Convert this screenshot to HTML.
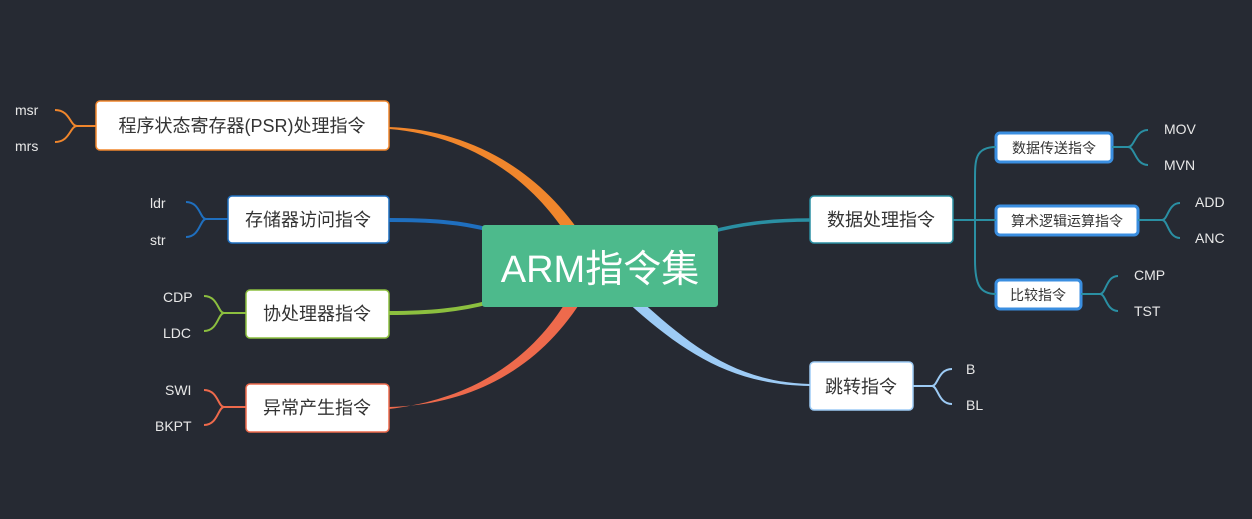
<!DOCTYPE html>
<html><head><meta charset="utf-8"><style>
html,body{margin:0;padding:0;background:#262a33;width:1252px;height:519px;overflow:hidden}
text{font-family:"Liberation Sans","Noto Sans CJK SC",sans-serif}
</style></head><body>
<svg width="1252" height="519" viewBox="0 0 1252 519" xmlns="http://www.w3.org/2000/svg">
<rect width="1252" height="519" fill="#262a33"/>
<!-- main branches -->
<path d="M389 127 C470 130 540 170 585 240 L570 240 C530 175 465 135 389 129Z" fill="#f0862c"/>
<path d="M389 407 C470 405 540 370 585 295 L570 295 C530 365 465 400 389 409Z" fill="#ee6a4c"/>
<path d="M389 220 C430 220 460 222 490 230" stroke="#1f6fbf" stroke-width="4" fill="none"/>
<path d="M389 313 C430 313 460 310 490 302" stroke="#8cbf3f" stroke-width="4" fill="none"/>
<path d="M625 300 C680 350 730 385 810 386 L810 384 C735 382 690 345 640 300Z" fill="#9dcbf5"/>
<path d="M710 232 C740 224 770 220 810 220" stroke="#2a8fa3" stroke-width="3.5" fill="none"/>
<!-- central -->
<rect x="482" y="225" width="236" height="82" rx="3" fill="#4dba8c"/>
<text x="600" y="282" font-size="38" fill="#fff" text-anchor="middle">ARM指令集</text>
<!-- left nodes -->
<g fill="#fff" stroke-width="1.5">
<rect x="96" y="101" width="293" height="49" rx="4" stroke="#f0862c"/>
<rect x="228" y="196" width="161" height="47" rx="4" stroke="#1f6fbf"/>
<rect x="246" y="290" width="143" height="48" rx="4" stroke="#8cbf3f"/>
<rect x="246" y="384" width="143" height="48" rx="4" stroke="#ee6a4c"/>
<rect x="810" y="196" width="143" height="47" rx="4" stroke="#2a8fa3"/>
<rect x="810" y="362" width="103" height="48" rx="4" stroke="#9dcbf5"/>
</g>
<g font-size="18" fill="#333" text-anchor="middle">
<text x="242" y="132">程序状态寄存器(PSR)处理指令</text>
<text x="308" y="226">存储器访问指令</text>
<text x="317" y="320">协处理器指令</text>
<text x="317" y="414">异常产生指令</text>
<text x="881" y="226">数据处理指令</text>
<text x="861" y="393">跳转指令</text>
</g>
<!-- sub nodes -->
<g fill="#fff" stroke="#3a8ee0" stroke-width="3">
<rect x="996" y="133" width="116" height="29" rx="4"/>
<rect x="996" y="206" width="142" height="29" rx="4"/>
<rect x="996" y="280" width="85" height="29" rx="4"/>
</g>
<g font-size="14" fill="#333" text-anchor="middle">
<text x="1054" y="153">数据传送指令</text>
<text x="1067" y="226">算术逻辑运算指令</text>
<text x="1038" y="300">比较指令</text>
</g>
<!-- right connectors -->
<g fill="none" stroke="#2a8fa3" stroke-width="2">
<path d="M953 220 L996 220"/>
<path d="M996 147 C975 147 975 160 975 180 L975 260 C975 285 980 294 996 294"/>
<path d="M1112 147 L1128 147 M1148 130 C1135 130 1135 147 1128 147 C1135 147 1135 165 1148 165"/>
<path d="M1138 220 L1162 220 M1180 203 C1168 203 1168 220 1162 220 C1168 220 1168 238 1180 238"/>
<path d="M1081 294 L1100 294 M1118 276 C1106 276 1106 294 1100 294 C1106 294 1106 311 1118 311"/>
</g>
<g fill="none" stroke="#9dcbf5" stroke-width="2">
<path d="M913 386 L932 386 M952 369 C938 369 938 386 932 386 C938 386 938 404 952 404"/>
</g>
<!-- left brackets -->
<g fill="none" stroke-width="2">
<path stroke="#f0862c" d="M96 126 L77 126 M55 110 C70 110 70 126 77 126 C70 126 70 142 55 142"/>
<path stroke="#1f6fbf" d="M228 219 L206 219 M186 202 C200 202 200 219 206 219 C200 219 200 237 186 237"/>
<path stroke="#8cbf3f" d="M246 313 L224 313 M204 296 C218 296 218 313 224 313 C218 313 218 331 204 331"/>
<path stroke="#ee6a4c" d="M246 407 L224 407 M204 390 C218 390 218 407 224 407 C218 407 218 425 204 425"/>
</g>
<g font-size="14" fill="#e8e8e8">
<text x="15" y="115">msr</text><text x="15" y="151">mrs</text>
<text x="150" y="208">ldr</text><text x="150" y="245">str</text>
<text x="163" y="302">CDP</text><text x="163" y="338">LDC</text>
<text x="165" y="395">SWI</text><text x="155" y="431">BKPT</text>
<text x="1164" y="134">MOV</text><text x="1164" y="170">MVN</text>
<text x="1195" y="207">ADD</text><text x="1195" y="243">ANC</text>
<text x="1134" y="280">CMP</text><text x="1134" y="316">TST</text>
<text x="966" y="374">B</text><text x="966" y="410">BL</text>
</g>
</svg>
</body></html>
